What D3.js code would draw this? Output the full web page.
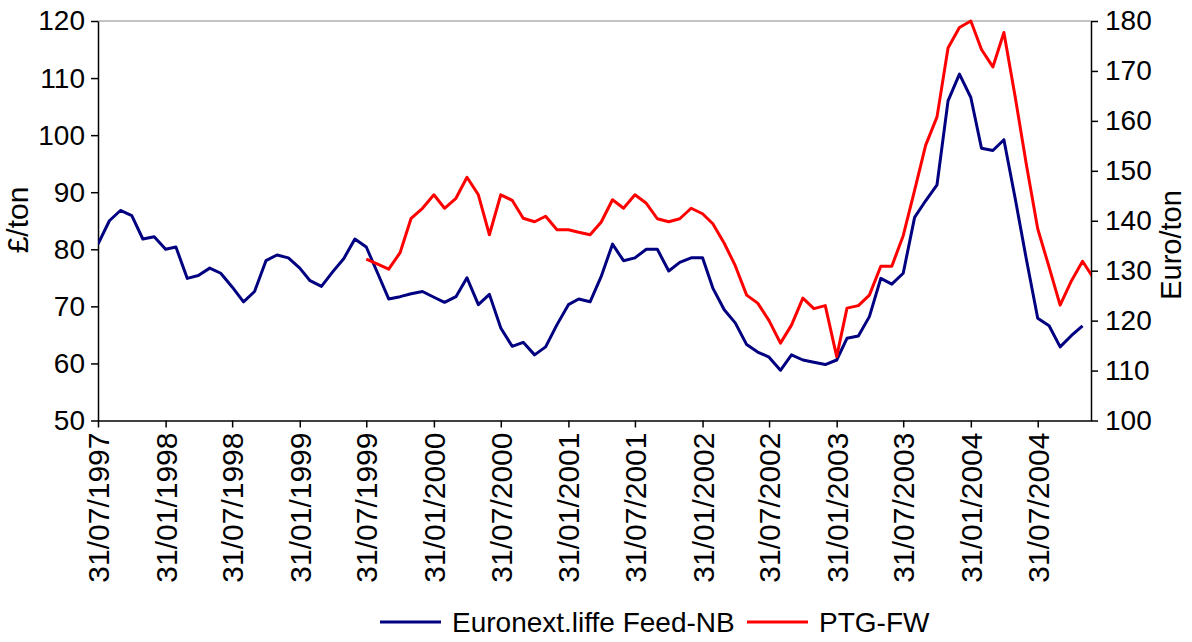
<!DOCTYPE html>
<html>
<head>
<meta charset="utf-8">
<script src="https://cdn.jsdelivr.net/npm/d3@7"></script>
<style>
  body { margin: 0; background: #fff; }
  text { font-family: "Liberation Sans", Arial, sans-serif; fill: #000; }
</style>
</head>
<body>
<div id="chart"></div>
<script>
const width = 1192
const height = 642
const margin = { top: 21, bottom: 221.5, left: 98, right: 101 }

// Euronext.liffe Feed-NB, £/ton, monthly from 31/07/1997
const feedNB = [
    80.9, 85.0, 86.8, 85.9, 81.8, 82.2, 80.0, 80.4, 74.9, 75.4, 76.7, 75.8,
    73.4, 70.8, 72.6, 78.0, 79.0, 78.5, 76.7, 74.5, 73.5, 76.0, 78.4, 81.8,
    80.4, 75.8, 71.3, 71.7, 72.2, 72.6, 71.6, 70.7, 71.7, 75.0, 70.3, 72.1,
    66.2, 63.0, 63.7, 61.5, 62.9, 66.8, 70.3, 71.3, 70.8, 75.2, 80.9, 78.0,
    78.5, 80.0, 80.0, 76.2, 77.7, 78.5, 78.5, 73.2, 69.4, 67.1, 63.3, 62.0,
    61.1, 58.8, 61.5, 60.6, 60.2, 59.8, 60.6, 64.4, 64.8, 68.2, 74.9, 73.9,
    75.8, 85.6, 88.5, 91.3, 106.0, 110.7, 106.6, 97.7, 97.3, 99.2, 88.8, 78.3,
    67.9, 66.6, 62.9, 64.9, 66.6
]

// PTG-FW, Euro/ton, monthly from 31/07/1999
const ptgStart = 24
const ptgFW = [
    132.3, 131.3, 130.3, 133.6, 140.5, 142.5, 145.2, 142.5, 144.5, 148.7, 145.2, 137.2,
    145.2, 144.1, 140.5, 139.8, 140.9, 138.2, 138.2, 137.7, 137.2, 139.7, 144.2, 142.5,
    145.2, 143.5, 140.4, 139.8, 140.4, 142.5, 141.4, 139.4, 135.5, 131.0, 125.1, 123.5,
    120.0, 115.5, 119.1, 124.5, 122.4, 123.0, 112.8, 122.5, 123.0, 125.1, 130.9, 130.9,
    137.0, 146.1, 155.1, 160.8, 174.6, 178.7, 180.0, 174.3, 170.8, 177.7, 164.7, 151.3,
    138.4, 130.7, 123.1, 128.0, 131.9, 128.4
]

const leftTicks = [50, 60, 70, 80, 90, 100, 110, 120]
const rightTicks = [100, 110, 120, 130, 140, 150, 160, 170, 180]
const seriesNames = ["Euronext.liffe Feed-NB", "PTG-FW"]
const seriesColors = ["#000080", "#ff0000"]

// end of month for month index i counted from July 1997
const monthEnd = i => new Date(1997, 7 + i, 0)
const dateTicks = d3.range(15).map(i => monthEnd(i * 6))

const feedData = feedNB.map((v, i) => ({ date: monthEnd(i), value: v }))
const ptgData = ptgFW.map((v, i) => ({ date: monthEnd(ptgStart + i), value: v }))

const svg = d3.select("div#chart").append("svg").attr("width", width).attr("height", height)

const innerW = width - margin.left - margin.right
const innerH = height - margin.top - margin.bottom

const x = d3.scaleTime()
    .domain([new Date(1997, 6, 31), new Date(2004, 11, 23)])
    .range([margin.left, margin.left + innerW])
const yLeft = d3.scaleLinear().domain([50, 120]).range([margin.top + innerH, margin.top])
const yRight = d3.scaleLinear().domain([100, 180]).range([margin.top + innerH, margin.top])

// top border
svg.append("line")
    .attr("x1", margin.left).attr("x2", margin.left + innerW)
    .attr("y1", margin.top).attr("y2", margin.top)
    .attr("stroke", "#b0b0b0").attr("stroke-width", 1.5)

const axisStyle = g => {
    g.selectAll("path, line").attr("stroke", "#000").attr("stroke-width", 1.5)
    g.selectAll("text").attr("font-size", 28).attr("fill", "#000")
    g.attr("font-family", null)
}

svg.append("g")
    .attr("transform", `translate(${margin.left},0)`)
    .call(d3.axisLeft(yLeft).tickValues(leftTicks).tickSize(7).tickSizeOuter(0).tickPadding(6))
    .call(axisStyle)

svg.append("g")
    .attr("transform", `translate(${margin.left + innerW},0)`)
    .call(d3.axisRight(yRight).tickValues(rightTicks).tickSize(7).tickSizeOuter(0).tickPadding(7))
    .call(axisStyle)

const xAxisG = svg.append("g")
    .attr("transform", `translate(0,${margin.top + innerH})`)
    .call(d3.axisBottom(x).tickValues(dateTicks).tickFormat(d3.timeFormat("%d/%m/%Y"))
        .tickSize(7).tickSizeOuter(0))
    .call(axisStyle)

xAxisG.selectAll("text")
    .attr("font-size", 30)
    .attr("transform", "rotate(-90)")
    .attr("text-anchor", "end")
    .attr("x", -12)
    .attr("y", 0)
    .attr("dy", "0.35em")

// axis titles
svg.append("text")
    .attr("transform", `translate(28,${margin.top + 199}) rotate(-90)`)
    .attr("text-anchor", "middle")
    .attr("font-size", 30)
    .text("£/ton")

svg.append("text")
    .attr("transform", `translate(1181,${margin.top + 224}) rotate(-90)`)
    .attr("text-anchor", "middle")
    .attr("font-size", 29)
    .text("Euro/ton")

svg.append("clipPath").attr("id", "plotClip")
    .append("rect")
    .attr("x", margin.left).attr("y", 0)
    .attr("width", innerW).attr("height", margin.top + innerH + 5)

const lines = svg.append("g").attr("clip-path", "url(#plotClip)")

lines.append("path")
    .datum(feedData)
    .attr("fill", "none")
    .attr("stroke", seriesColors[0])
    .attr("stroke-width", 3)
    .attr("stroke-linejoin", "round")
    .attr("d", d3.line().x(d => x(d.date)).y(d => yLeft(d.value)))

lines.append("path")
    .datum(ptgData)
    .attr("fill", "none")
    .attr("stroke", seriesColors[1])
    .attr("stroke-width", 3)
    .attr("stroke-linejoin", "round")
    .attr("d", d3.line().x(d => x(d.date)).y(d => yRight(d.value)))

// legend
const legend = svg.append("g").attr("transform", "translate(0,622)")
const legendX = [380, 747]
seriesNames.forEach((name, i) => {
    legend.append("line")
        .attr("x1", legendX[i]).attr("x2", legendX[i] + 61)
        .attr("y1", 0).attr("y2", 0)
        .attr("stroke", seriesColors[i]).attr("stroke-width", 3)
    legend.append("text")
        .attr("x", legendX[i] + 72)
        .attr("y", 0)
        .attr("dy", "0.35em")
        .attr("font-size", 28)
        .text(name)
})
</script>
</body>
</html>
